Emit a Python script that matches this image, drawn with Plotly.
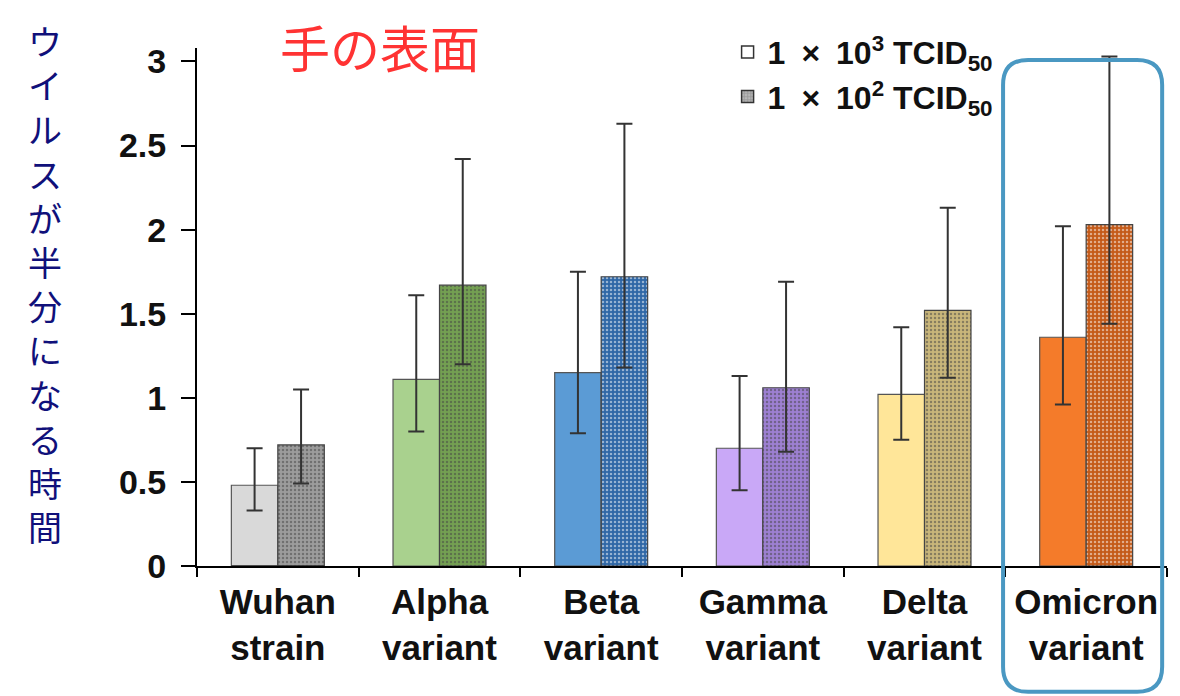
import plotly.graph_objects as go

categories = ["Wuhan<br>strain", "Alpha<br>variant", "Beta<br>variant",
              "Gamma<br>variant", "Delta<br>variant", "Omicron<br>variant"]

# 1 x 10^3 TCID50 (plain bars)
high_vals = [0.48, 1.11, 1.15, 0.70, 1.02, 1.36]
high_upper = [0.70, 1.61, 1.75, 1.13, 1.42, 2.02]
high_lower = [0.33, 0.80, 0.79, 0.45, 0.75, 0.96]

# 1 x 10^2 TCID50 (patterned bars)
low_vals = [0.72, 1.67, 1.72, 1.06, 1.52, 2.03]
low_upper = [1.05, 2.42, 2.63, 1.69, 2.13, 3.03]
low_lower = [0.49, 1.20, 1.18, 0.68, 1.12, 1.44]

y_ticks = [0, 0.5, 1, 1.5, 2, 2.5, 3]
y_ticklabels = ["0", "0.5", "1", "1.5", "2", "2.5", "3"]

legend_names = ["1\u2002×\u200210<sup>3</sup> TCID<sub>50</sub>",
                "1\u2002×\u200210<sup>2</sup> TCID<sub>50</sub>"]
title_text = "手の表面"
ytitle_text = "ウイルスが半分になる時間"

light_colors = ["#d9d9d9", "#a9d18e", "#5b9bd5", "#c9a8f7", "#ffe699", "#f47b2a"]
dark_colors = ["#9c9c9c", "#74a052", "#2f67a6", "#9d80d2", "#c9b67a", "#c45a18"]

fig = go.Figure()

fig.add_trace(go.Bar(
    x=categories, y=high_vals, showlegend=False,
    marker=dict(color=light_colors, line=dict(color="#555555", width=1.2)),
    error_y=dict(type="data", symmetric=False,
                 array=[u - v for u, v in zip(high_upper, high_vals)],
                 arrayminus=[v - l for v, l in zip(high_vals, high_lower)],
                 color="#333333", thickness=2, width=8),
))
fig.add_trace(go.Bar(
    x=categories, y=low_vals, showlegend=False,
    marker=dict(color=dark_colors, line=dict(color="#444444", width=1.2),
                pattern=dict(shape=".", fgcolor="rgba(255,255,255,0.5)",
                             size=4, solidity=0.3)),
    error_y=dict(type="data", symmetric=False,
                 array=[u - v for u, v in zip(low_upper, low_vals)],
                 arrayminus=[v - l for v, l in zip(low_vals, low_lower)],
                 color="#333333", thickness=2, width=8),
))

# legend-only traces on a hidden overlay axis
fig.add_trace(go.Bar(
    x=[categories[0]], y=[0], name=legend_names[0], xaxis="x2",
    legendgroup="a",
    marker=dict(color="white", line=dict(color="#333333", width=1.5)),
))
fig.add_trace(go.Bar(
    x=[categories[0]], y=[0], name=legend_names[1], xaxis="x2",
    legendgroup="b",
    marker=dict(color="#9c9c9c", line=dict(color="#333333", width=1.5),
                pattern=dict(shape=".", fgcolor="rgba(255,255,255,0.6)",
                             size=4, solidity=0.4)),
))

annotations = [
    dict(text=title_text, xref="paper", yref="paper", x=0.189, y=1.003,
         xanchor="center", yanchor="middle", showarrow=False,
         font=dict(family="Noto Sans CJK JP", size=50, color="#ff3333")),
    dict(text="<br>".join(list(ytitle_text)), xref="paper", yref="paper",
         x=(45 - 197) / 970, y=0.545, xanchor="center", yanchor="middle",
         showarrow=False,
         font=dict(family="Noto Sans CJK JP", size=34, color="#10107a")),
]

fig.update_layout(
    width=1172, height=688,
    margin=dict(l=189, r=13, t=40, b=130, autoexpand=False),
    paper_bgcolor="white", plot_bgcolor="white",
    barmode="group", bargap=0.425, bargroupgap=0,
    font=dict(family="Liberation Sans, Arial, sans-serif", color="black"),
    xaxis=dict(
        type="category", tickson="boundaries", ticks="outside",
        ticklen=9, tickwidth=2, tickcolor="black",
        showline=True, linecolor="black", linewidth=2,
        showgrid=False, zeroline=False, automargin=False,
        tickfont=dict(size=35, weight="bold", color="#111111"),
        ticklabelstandoff=4,
    ),
    xaxis2=dict(type="category", overlaying="x", visible=False,
                matches="x"),
    yaxis=dict(
        range=[0, 3.08], tickvals=y_ticks, ticktext=y_ticklabels,
        ticks="outside", ticklen=14, tickwidth=2, tickcolor="black",
        showline=True, linecolor="black", linewidth=2,
        showgrid=False, zeroline=False, automargin=False,
        tickfont=dict(size=34, weight="bold", color="#111111"),
        ticklabelstandoff=8,
    ),
    legend=dict(x=0.547, y=1.045, xanchor="left", yanchor="top",
                bgcolor="rgba(0,0,0,0)", tracegroupgap=0,
                font=dict(size=32, weight="bold", color="#111111"),
                itemwidth=30),
    annotations=annotations,
)

# rounded highlight box around Omicron
x0, x1 = 0.831, 0.995
y0, y1 = -0.243, 0.977
rx, ry = 25 / 970, 25 / 518
path = (f"M {x0+rx},{y1} L {x1-rx},{y1} Q {x1},{y1} {x1},{y1-ry} "
        f"L {x1},{y0+ry} Q {x1},{y0} {x1-rx},{y0} "
        f"L {x0+rx},{y0} Q {x0},{y0} {x0},{y0+ry} "
        f"L {x0},{y1-ry} Q {x0},{y1} {x0+rx},{y1} Z")
fig.add_shape(type="path", path=path, xref="paper", yref="paper",
              line=dict(color="#4a98c2", width=4), fillcolor="rgba(0,0,0,0)")

fig.write_html("out.html")
